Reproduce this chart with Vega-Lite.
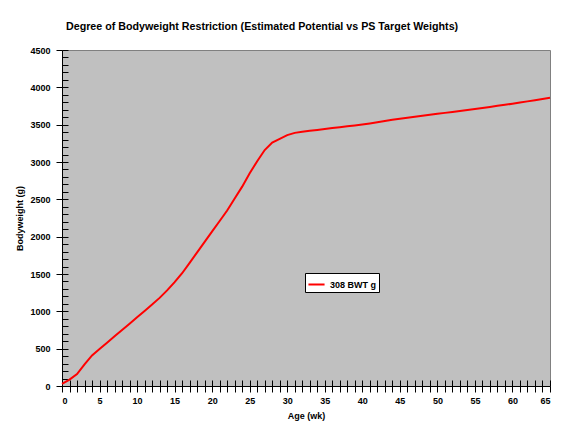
{
  "$schema": "https://vega.github.io/schema/vega-lite/v6.json",
  "autosize": {"type": "none"},
  "padding": {"left": 62, "top": 50, "right": 21, "bottom": 47},
  "width": 488,
  "height": 336,
  "background": "white",
  "title": {
    "text": "Degree of Bodyweight Restriction (Estimated Potential vs PS Target Weights)",
    "anchor": "start",
    "frame": "group",
    "dx": 4,
    "offset": 13,
    "font": "Liberation Sans",
    "fontSize": 10.7,
    "fontWeight": "bold",
    "color": "black"
  },
  "config": {
    "view": {"fill": "#C0C0C0", "stroke": "#808080", "strokeWidth": 1}
  },
  "data": {
    "values": [
      {"age": 0, "bw": 30}, {"age": 1, "bw": 85}, {"age": 2, "bw": 160}, {"age": 3, "bw": 290},
      {"age": 4, "bw": 410}, {"age": 5, "bw": 495}, {"age": 6, "bw": 580}, {"age": 7, "bw": 665},
      {"age": 8, "bw": 750}, {"age": 9, "bw": 835}, {"age": 10, "bw": 920}, {"age": 11, "bw": 1005},
      {"age": 12, "bw": 1090}, {"age": 13, "bw": 1180}, {"age": 14, "bw": 1280}, {"age": 15, "bw": 1390},
      {"age": 16, "bw": 1510}, {"age": 17, "bw": 1650}, {"age": 18, "bw": 1790}, {"age": 19, "bw": 1930},
      {"age": 20, "bw": 2070}, {"age": 21, "bw": 2210}, {"age": 22, "bw": 2350}, {"age": 23, "bw": 2510},
      {"age": 24, "bw": 2670}, {"age": 25, "bw": 2850}, {"age": 26, "bw": 3010}, {"age": 27, "bw": 3160},
      {"age": 28, "bw": 3260}, {"age": 29, "bw": 3310}, {"age": 30, "bw": 3360}, {"age": 31, "bw": 3390},
      {"age": 32, "bw": 3405}, {"age": 33, "bw": 3418}, {"age": 34, "bw": 3430}, {"age": 35, "bw": 3442},
      {"age": 36, "bw": 3454}, {"age": 37, "bw": 3466}, {"age": 38, "bw": 3478}, {"age": 39, "bw": 3490},
      {"age": 40, "bw": 3502}, {"age": 41, "bw": 3516}, {"age": 42, "bw": 3532}, {"age": 43, "bw": 3550},
      {"age": 44, "bw": 3566}, {"age": 45, "bw": 3580}, {"age": 46, "bw": 3593}, {"age": 47, "bw": 3606},
      {"age": 48, "bw": 3619}, {"age": 49, "bw": 3632}, {"age": 50, "bw": 3645}, {"age": 51, "bw": 3658},
      {"age": 52, "bw": 3671}, {"age": 53, "bw": 3684}, {"age": 54, "bw": 3697}, {"age": 55, "bw": 3710},
      {"age": 56, "bw": 3724}, {"age": 57, "bw": 3738}, {"age": 58, "bw": 3752}, {"age": 59, "bw": 3766},
      {"age": 60, "bw": 3780}, {"age": 61, "bw": 3796}, {"age": 62, "bw": 3812}, {"age": 63, "bw": 3828},
      {"age": 64, "bw": 3844}, {"age": 65, "bw": 3860}
    ]
  },
  "layer": [
    {
      "mark": {"type": "line", "strokeWidth": 2},
      "encoding": {
        "x": {
          "field": "age", "type": "quantitative",
          "scale": {"domain": [0, 65], "nice": false, "zero": false},
          "axis": {
            "title": "Age (wk)",
            "values": [0,1,2,3,4,5,6,7,8,9,10,11,12,13,14,15,16,17,18,19,20,21,22,23,24,25,26,27,28,29,30,31,32,33,34,35,36,37,38,39,40,41,42,43,44,45,46,47,48,49,50,51,52,53,54,55,56,57,58,59,60,61,62,63,64,65],
            "labelExpr": "datum.value % 5 === 0 ? datum.label : ''",
            "grid": false,
            "tickSize": 6,
            "tickColor": "#000000",
            "tickWidth": 1,
            "domainColor": "#000000",
            "labelPadding": 4,
            "titlePadding": 6,
            "labelFont": "Liberation Sans",
            "labelFontSize": 9,
            "labelFontWeight": "bold",
            "labelColor": "black",
            "titleFont": "Liberation Sans",
            "titleFontSize": 9,
            "titleFontWeight": "bold",
            "titleColor": "black"
          }
        },
        "y": {
          "field": "bw", "type": "quantitative",
          "scale": {"domain": [0, 4500], "nice": false},
          "axis": {
            "title": "Bodyweight (g)",
            "values": [0,500,1000,1500,2000,2500,3000,3500,4000,4500],
            "format": "d",
            "grid": false,
            "tickSize": 6,
            "tickColor": "#000000",
            "tickWidth": 1,
            "domainColor": "#000000",
            "labelPadding": 6,
            "titlePadding": 5,
            "labelFont": "Liberation Sans",
            "labelFontSize": 9,
            "labelFontWeight": "bold",
            "labelColor": "black",
            "titleFont": "Liberation Sans",
            "titleFontSize": 9,
            "titleFontWeight": "bold",
            "titleColor": "black"
          }
        },
        "color": {
          "datum": "308 BWT g",
          "scale": {"range": ["#FF0000"]},
          "legend": {
            "title": null,
            "orient": "none",
            "legendX": 243,
            "legendY": 223,
            "fillColor": "white",
            "strokeColor": "black",
            "padding": 2,
            "symbolType": "stroke",
            "symbolSize": 260,
            "symbolStrokeWidth": 2,
            "labelFont": "Liberation Sans",
            "labelFontSize": 9,
            "labelFontWeight": "bold",
            "labelColor": "black"
          }
        }
      }
    },
    {
      "mark": {"type": "line", "opacity": 0},
      "encoding": {
        "x": {
          "field": "age", "type": "quantitative",
          "scale": {"domain": [0, 65], "nice": false, "zero": false},
          "axis": {
            "orient": "bottom", "title": null, "labels": false, "domain": false, "grid": false,
            "values": [0,1,2,3,4,5,6,7,8,9,10,11,12,13,14,15,16,17,18,19,20,21,22,23,24,25,26,27,28,29,30,31,32,33,34,35,36,37,38,39,40,41,42,43,44,45,46,47,48,49,50,51,52,53,54,55,56,57,58,59,60,61,62,63,64,65],
            "tickSize": -6, "tickColor": "#000000", "tickWidth": 1
          }
        },
        "y": {
          "field": "bw", "type": "quantitative",
          "scale": {"domain": [0, 4500], "nice": false},
          "axis": {
            "orient": "left", "title": null, "labels": false, "domain": false, "grid": false,
            "values": [0,100,200,300,400,500,600,700,800,900,1000,1100,1200,1300,1400,1500,1600,1700,1800,1900,2000,2100,2200,2300,2400,2500,2600,2700,2800,2900,3000,3100,3200,3300,3400,3500,3600,3700,3800,3900,4000,4100,4200,4300,4400,4500],
            "tickSize": -6, "tickColor": "#000000", "tickWidth": 1
          }
        }
      }
    }
  ],
  "resolve": {"axis": {"x": "independent", "y": "independent"}}
}
